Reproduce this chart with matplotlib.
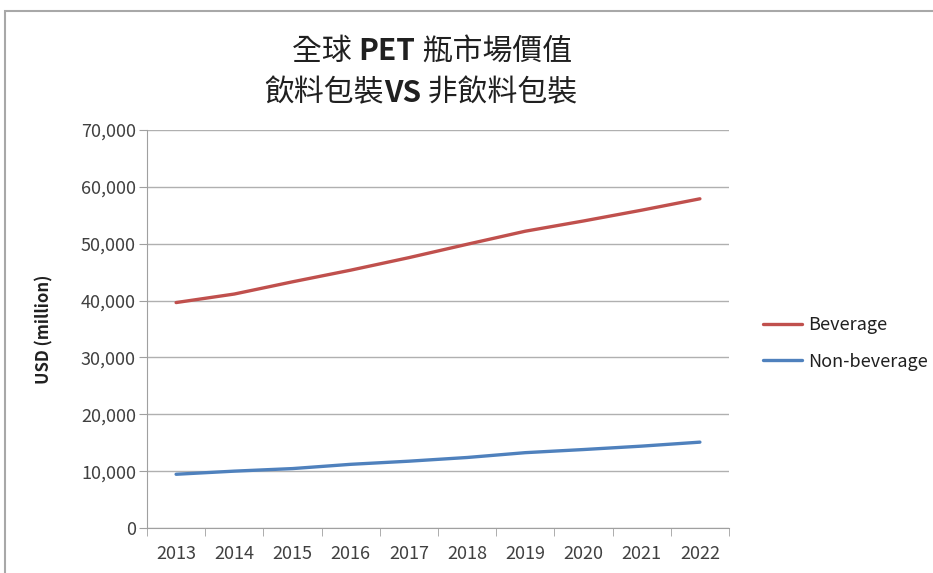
import matplotlib
matplotlib.use("Agg")
import matplotlib.pyplot as plt
from matplotlib.patches import Rectangle
from matplotlib.ticker import FuncFormatter, MultipleLocator, FixedLocator

years = ['2013', '2014', '2015', '2016', '2017', '2018', '2019', '2020', '2021', '2022']
beverage = [39650, 41150, 43300, 45350, 47550, 49900, 52200, 54000, 55900, 57900]
non_beverage = [9450, 10000, 10450, 11200, 11750, 12400, 13250, 13800, 14400, 15100]
series_names = ['Beverage', 'Non-beverage']
title_line1 = [('全球 ', 'normal'), ('PET', 'bold'), (' 瓶市場價值', 'normal')]
title_line2 = [('飲料包裝', 'normal'), ('VS', 'bold'), (' 非飲料包裝', 'normal')]

plt.rcParams['font.family'] = ['Noto Sans CJK TC', 'DejaVu Sans']

W, H = 933, 573
fig = plt.figure(figsize=(W / 100, H / 100), dpi=100)
ax = fig.add_axes([147 / W, 1 - 528 / H, (729 - 147) / W, (528 - 130) / H])

x = list(range(len(years)))
ax.plot(x, beverage, color='#C0504D', lw=2.4, label=series_names[0], solid_capstyle='round')
ax.plot(x, non_beverage, color='#4F81BD', lw=2.4, label=series_names[1], solid_capstyle='round')

ax.set_xlim(-0.5, len(years) - 0.5)
ax.set_ylim(0, 70000)
ax.yaxis.set_major_locator(MultipleLocator(10000))
ax.yaxis.set_major_formatter(FuncFormatter(lambda v, p: f'{int(v):,}'))
ax.set_xticks(x)
ax.set_xticklabels(years)
ax.xaxis.set_minor_locator(FixedLocator([i - 0.5 for i in range(len(years) + 1)]))
ax.tick_params(axis='x', which='major', length=0, pad=12, labelsize=13, colors='#404040')
ax.tick_params(axis='x', which='minor', length=6, color='#A0A0A0', direction='out')
ax.tick_params(axis='y', length=6, color='#A0A0A0', pad=2, labelsize=13, labelcolor='#404040')
ax.grid(axis='y', color='#B0B0B0', lw=1)
ax.set_axisbelow(True)
for s in ['top', 'right']:
    ax.spines[s].set_visible(False)
for s in ['left', 'bottom']:
    ax.spines[s].set_color('#A0A0A0')
ax.set_ylabel('USD (million)', fontweight='bold', fontsize=12, color='#202020', labelpad=20)

ax.legend(loc='center left', bbox_to_anchor=(1.03, 0.4636), frameon=False,
          fontsize=13, handlelength=2.2, labelspacing=1.0, handletextpad=0.3,
          labelcolor='#202020')

# title with bold parts, laid out piece by piece
fig.canvas.draw()
renderer = fig.canvas.get_renderer()


def draw_line(parts, xc, y):
    texts = [fig.text(0, y, t, fontsize=21.5, fontweight=w, color='#202020', va='center')
             for t, w in parts]
    widths = [t.get_window_extent(renderer).width / W for t in texts]
    xs = xc - sum(widths) / 2
    for t, wd in zip(texts, widths):
        t.set_x(xs)
        xs += wd


draw_line(title_line1, 432 / W, 1 - 51 / H)
draw_line(title_line2, 421 / W, 1 - 93 / H)

fig.patches.append(Rectangle((5 / W, -0.1), 1.2, 1.1 - 11 / H, transform=fig.transFigure,
                             fill=False, edgecolor='#A8A8A8', lw=1.5))

fig.savefig('out.png', dpi=100)
